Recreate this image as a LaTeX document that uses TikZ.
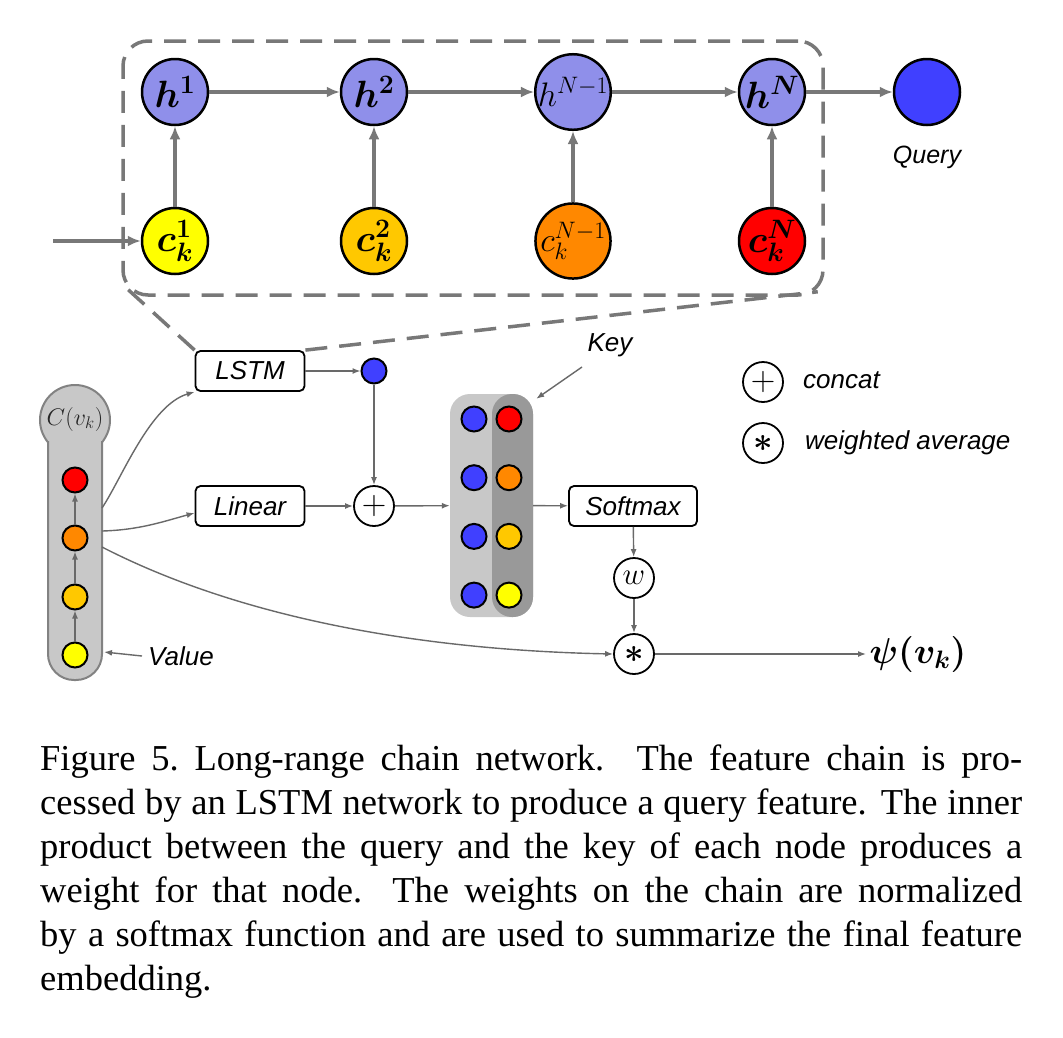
\RequirePackage{fix-cm}
\documentclass[tikz,border=0pt]{standalone}
\usepackage{bm}
\usepackage{fontspec}
\setsansfont{Liberation Sans}
\newfontfamily\capfont{Liberation Serif}
\usetikzlibrary{arrows.meta,calc,positioning}

\definecolor{hidblue}{RGB}{143,143,234}
\definecolor{qblue}{RGB}{64,64,255}
\definecolor{cyel}{RGB}{255,255,0}
\definecolor{cgold}{RGB}{255,200,0}
\definecolor{corange}{RGB}{255,136,0}
\definecolor{cred}{RGB}{255,0,0}
\definecolor{arrgray}{RGB}{120,120,120}
\definecolor{thingray}{RGB}{105,105,105}
\definecolor{boxfill}{RGB}{200,200,200}
\definecolor{keyfill}{RGB}{153,153,153}
\definecolor{stemline}{RGB}{130,130,130}

\begin{document}
\begin{tikzpicture}[x=1pt,y=-1pt,node distance=199pt,
                    cell/.style={circle,draw=black,line width=2.5pt,minimum size=66pt,inner sep=0pt,font=\fontsize{38}{40}\selectfont},
                    dot/.style={circle,draw=black,line width=2pt,minimum size=25pt,inner sep=0pt},
                    opnode/.style={circle,draw=black,line width=1.8pt,minimum size=40pt,inner sep=0pt,font=\fontsize{34}{36}\selectfont},
                    block/.style={draw=black,line width=1.8pt,rounded corners=5pt,minimum width=109pt,minimum height=40pt,inner sep=0pt,font=\fontsize{26}{28}\selectfont\sffamily\itshape},
                    lbl/.style={inner sep=0pt,font=\fontsize{26}{28}\selectfont\sffamily\itshape}]
  \tikzstyle{fatflow}=[draw=arrgray,line width=3.5pt,-{Latex[length=13pt,width=11pt]}]
  \tikzstyle{flow}=[draw=thingray,line width=1.4pt,-{Latex[length=8pt,width=6pt]}]
  \tikzstyle{zoomline}=[draw=arrgray,line width=3.5pt,dash pattern=on 22pt off 12pt]

  \fill[white] (0,0) rectangle (1063,1037);
  \useasboundingbox (0,0) rectangle (1063,1037);

  \node[zoomline,rounded corners=25pt,minimum width=700pt,minimum height=254pt] (frame) at (473,168) {};

  \node[cell,fill=hidblue] (h1) at (175,92) {$\bm{h^1}$};
  \node[cell,fill=hidblue] (h2) [right of=h1] {$\bm{h^2}$};
  \node[cell,fill=hidblue,font=\fontsize{34}{36}\selectfont] (h3) [right of=h2] {$h^{N-1}$};
  \node[cell,fill=hidblue] (h4) [right of=h3] {$\bm{h^N}$};
  \node[node distance=155pt,cell,fill=qblue] (q) [right of=h4] {};
  \node[node distance=65pt,lbl,font=\fontsize{25}{27}\selectfont\sffamily\itshape] (qlab) [below of=q] {Query};

  \node[node distance=149pt,cell,fill=cyel] (c1) [below of=h1] {$\bm{c_k^1}$};
  \node[node distance=149pt,cell,fill=cgold] (c2) [below of=h2] {$\bm{c_k^2}$};
  \node[node distance=149pt,cell,fill=corange,font=\fontsize{34}{36}\selectfont] (c3) [below of=h3] {$c_k^{N-1}$};
  \node[node distance=149pt,cell,fill=cred] (c4) [below of=h4] {$\bm{c_k^N}$};
  \coordinate (in) at (53,241);

  \draw[fatflow] (in) -- (c1);
  \path (c1) edge[fatflow] (h1) (c2) edge[fatflow] (h2)
        (c3) edge[fatflow] (h3) (c4) edge[fatflow] (h4)
        (h1) edge[fatflow] (h2) (h2) edge[fatflow] (h3)
        (h3) edge[fatflow] (h4) (h4) edge[fatflow] (q);

  \filldraw[fill=boxfill,draw=stemline,line width=2pt] (75,420) circle (35pt);
  \fill[boxfill,rounded corners=26pt] (48,430) -- (48,680) -- (102,680) -- (102,430);
  \draw[stemline,line width=2pt,rounded corners=26pt] (48,441) -- (48,680) -- (102,680) -- (102,441);
  \node[font=\fontsize{24}{26}\selectfont,text=black!85] (clab) at (75,419) {$C(v_k)$};

  \node[dot,fill=cyel] (v1) at (75,655) {};
  \node[node distance=58pt,dot,fill=cgold] (v2) [above of=v1] {};
  \node[node distance=59pt,dot,fill=corange] (v3) [above of=v2] {};
  \node[node distance=58pt,dot,fill=cred] (v4) [above of=v3] {};
  \path (v1) edge[flow] (v2) (v2) edge[flow] (v3) (v3) edge[flow] (v4);

  \node[lbl,anchor=west] (val) at (148,656) {Value};
  \coordinate (stemv) at (104,652);
  \draw[flow] ([xshift=-6pt]val.west) -- (stemv);

  \node[block] (lstm) at (250,371) {LSTM};
  \node[block] (lin) at (250,506) {Linear};
  \node[dot,fill=qblue] (qd) at (374,371) {};
  \node[opnode] (cat) at (374,506) {$+$};

  \node[fill=boxfill,rounded corners=20pt,minimum width=83pt,minimum height=223pt] (mat) at (491.5,505.5) {};
  \node[fill=keyfill,rounded corners=20pt,minimum width=41pt,minimum height=223pt] (keys) at (512.5,505.5) {};
  \foreach \col [count=\i] in {cred,corange,cgold,cyel} {
    \node[dot,fill=qblue] (kq\i) at (474,{360.3+58.7*\i}) {};
    \node[dot,fill=\col] (kk\i) at (509,{360.3+58.7*\i}) {};
  }

  \node[block,minimum width=128pt] (soft) at (633,506) {Softmax};
  \node[opnode,font=\fontsize{31}{33}\selectfont] (w) at (634,578) {$w$};
  \node[opnode] (avg) at (634,654) {$\bm{\ast}$};
  \node[font=\fontsize{36}{38}\selectfont,anchor=west] (out) at (866,654) {$\bm{\psi(v_k)}$};

  \node[lbl] (keylab) at (610,345) {Key};
  \coordinate (keytail) at (582,367);
  \draw[flow] (keytail) -- ($(keys.north east)+(3,5)$);

  \path (lstm) edge[flow] (qd) (qd) edge[flow] (cat) (lin) edge[flow] (cat)
        (cat) edge[flow] (mat) (mat) edge[flow] (soft) (soft) edge[flow] (w)
        (w) edge[flow] (avg) (avg) edge[flow] (out);

  \coordinate (o1) at (102,508);
  \coordinate (o2) at (102,531);
  \coordinate (o3) at (102,547);
  \draw[flow] (o1) .. controls (122,478) and (150,405) .. (lstm.south west);
  \draw[flow] (o2) .. controls (140,530) and (165,521) .. ([yshift=-7pt]lin.west);
  \draw[flow] (o3) .. controls (240,618) and (420,650) .. (avg.west);

  \draw[zoomline] (lstm.north west) -- ($(frame.south west)+(7,-7)$);
  \draw[zoomline] (lstm.north east) -- ($(frame.south east)+(-7,-5)$);

  \node[opnode] (lcat) at (763,382) {$+$};
  \node[lbl,anchor=west] (lcattxt) at (803,380) {concat};
  \node[opnode] (lavg) at (763,443) {$\bm{\ast}$};
  \node[lbl,anchor=west] (lavgtxt) at (805,443) {weighted average};

  \node[anchor=north west,inner sep=0pt,align=left,font=\capfont\fontsize{36.5}{44}\selectfont] (cap) at (40,745)
    {\makebox[982pt][s]{Figure 5.\ Long-range chain network.  The feature chain is pro-}\\
     \makebox[982pt][s]{cessed by an LSTM network to produce a query feature. The inner}\\
     \makebox[982pt][s]{product between the query and the key of each node produces a}\\
     \makebox[982pt][s]{weight for that node.  The weights on the chain are normalized}\\
     \makebox[982pt][s]{by a softmax function and are used to summarize the final feature}\\
     embedding.};
\end{tikzpicture}
\end{document}
